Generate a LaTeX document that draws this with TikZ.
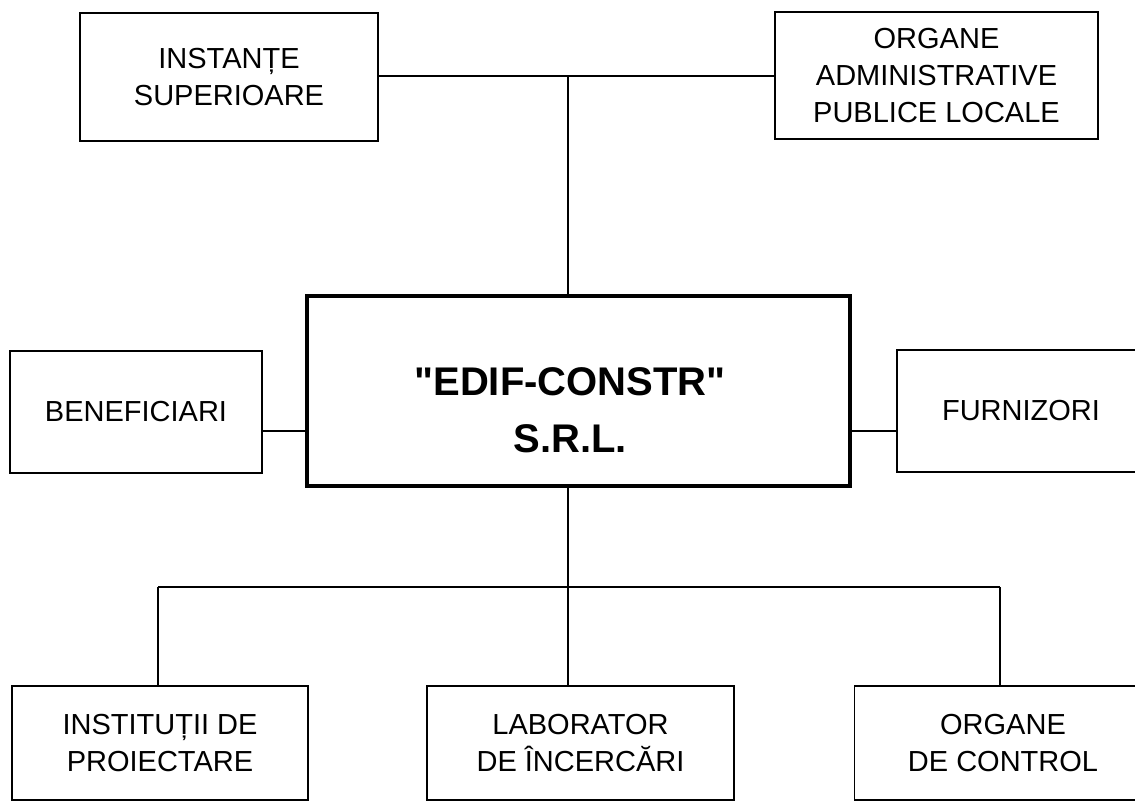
\documentclass[tikz,border=0pt]{standalone}
\usepackage{fontspec}
\setmainfont{Liberation Sans}[Ligatures=TeXOff]
\begin{document}
\begin{tikzpicture}[x=1pt,y=-1pt,
  box/.style={draw, line width=1.8pt, inner sep=0pt, align=center,
    font=\fontsize{29}{37}\selectfont},
  mainbox/.style={draw, line width=4.5pt, inner sep=0pt},
  maintxt/.style={inner sep=0pt, align=center,
    font=\fontsize{40}{57}\selectfont\bfseries},
  txt/.style={inner sep=0pt, align=center, font=\fontsize{29}{37}\selectfont},
  link/.style={line width=1.8pt}]
\useasboundingbox (0,0) rectangle (1135,801);
\clip (0,0) rectangle (1135,801);
\fill[white] (0,0) rectangle (1135,801);

% top boxes
\node[box, minimum width=298pt, minimum height=128pt] (inst) at (229,77) {INSTANȚE\\SUPERIOARE};
\node[box, minimum width=323pt, minimum height=127pt] (org) at (936.5,75.5) {ORGANE\\ADMINISTRATIVE\\PUBLICE LOCALE};

% main
\node[mainbox, minimum width=543pt, minimum height=190pt] (main) at (578.5,391) {};
\node[maintxt] (maint) at (570,410) {"EDIF-CONSTR"\\S.R.L.};

% side boxes
\node[box, minimum width=252pt, minimum height=122pt] (ben) at (136,412) {BENEFICIARI};
\node[box, minimum width=260pt, minimum height=122pt] (furn) at (1027,411) {};
\node[txt] (furnt) at (1021,411) {FURNIZORI};

% bottom boxes
\node[box, minimum width=296pt, minimum height=114pt] (inp) at (160,743) {INSTITUȚII DE\\PROIECTARE};
\node[box, minimum width=307pt, minimum height=114pt] (lab) at (580.5,743) {LABORATOR\\DE ÎNCERCĂRI};
\node[box, minimum width=297pt, minimum height=114pt] (oc) at (1003,743) {ORGANE\\DE CONTROL};

% junctions
\coordinate (tj) at (568,76);
\coordinate (bj) at (568,587);
\coordinate (bl) at (158,587);
\coordinate (br) at (1000,587);
\coordinate (sy) at (0,431);

% connectors
\draw[link] (inst.east |- tj) -- (org.west |- tj);
\draw[link] (tj) -- (main.north -| tj);
\draw[link] (main.south -| bj) -- (bj) -- (lab.north -| bj);
\draw[link] (bl) -- (br);
\draw[link] (bl) -- (inp.north -| bl);
\draw[link] (br) -- (oc.north -| br);
\draw[link] (ben.east |- sy) -- (main.west |- sy);
\draw[link] (main.east |- sy) -- (furn.west |- sy);
\end{tikzpicture}
\end{document}
